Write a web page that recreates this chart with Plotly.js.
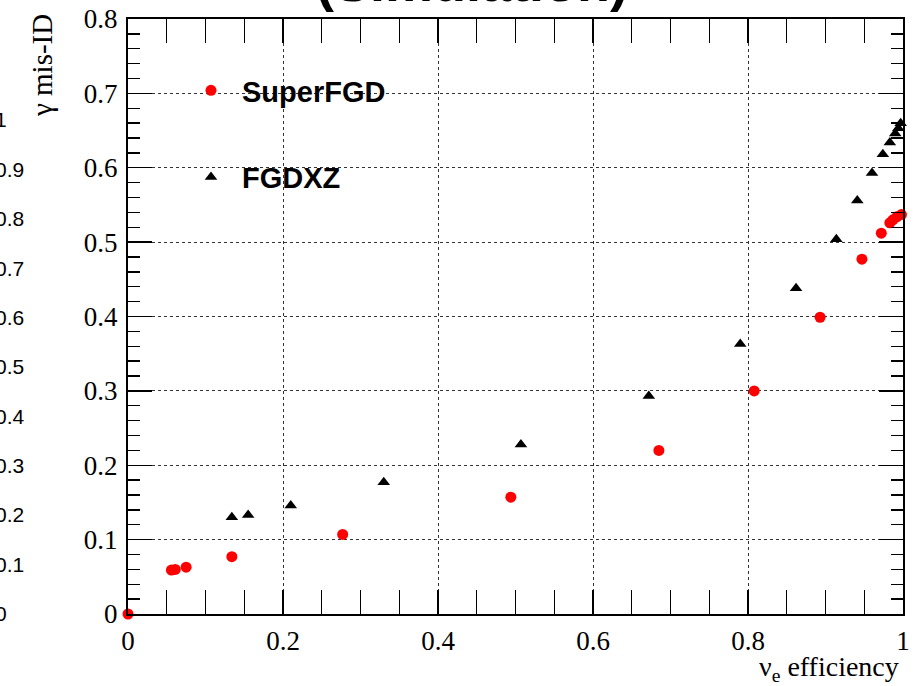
<!DOCTYPE html>
<html>
<head>
<meta charset="utf-8">
<script src="https://cdn.plot.ly/plotly-3.0.1.min.js"></script>
<style>html,body{margin:0;padding:0;background:#fff;}#chart{width:916px;height:686px;}</style>
</head>
<body>
<div id="chart"></div>
<script>
// SuperFGD (red circles)
const superX = [0, 0.056, 0.061, 0.075, 0.134, 0.277, 0.494, 0.685, 0.808, 0.893, 0.947, 0.972, 0.983, 0.987, 0.992, 0.998];
const superY = [0, 0.059, 0.060, 0.063, 0.077, 0.107, 0.157, 0.220, 0.300, 0.399, 0.477, 0.512, 0.526, 0.530, 0.534, 0.537];
// FGDXZ (black triangles)
const fgdX = [0.134, 0.155, 0.210, 0.330, 0.507, 0.672, 0.790, 0.862, 0.914, 0.941, 0.960, 0.974, 0.983, 0.990, 0.994, 0.997];
const fgdY = [0.130, 0.133, 0.146, 0.177, 0.228, 0.293, 0.363, 0.438, 0.504, 0.556, 0.593, 0.618, 0.634, 0.646, 0.653, 0.660];
// tick labels
const xTickVals = [0, 0.2, 0.4, 0.6, 0.8, 1];
const xTickText = ['0', '0.2', '0.4', '0.6', '0.8', '1'];
const yTickVals = [0, 0.1, 0.2, 0.3, 0.4, 0.5, 0.6, 0.7, 0.8];
const yTickText = ['0', '0.1', '0.2', '0.3', '0.4', '0.5', '0.6', '0.7', '0.8'];
// stray tick labels of the neighbouring (cropped) panel
const strayVals = [0, 0.1, 0.2, 0.3, 0.4, 0.5, 0.6, 0.7, 0.8, 0.9, 1];
const strayText = ['0', '0.1', '0.2', '0.3', '0.4', '0.5', '0.6', '0.7', '0.8', '0.9', '1'];
const seriesNames = ['SuperFGD', 'FGDXZ'];
const titleText = '(Simulation)';
const xTitle = 'ν<sub>e</sub> efficiency';
const yTitle = 'γ mis-ID';

const serif = 'Liberation Serif, Times New Roman, serif';
const sans = 'Liberation Sans, Arial, sans-serif';

const traces = [
  {x: superX, y: superY, type: 'scatter', mode: 'markers', name: seriesNames[0], legendgroup: 'a',
   marker: {color: '#ff0000', size: 11, symbol: 'circle', line: {width: 0}}, cliponaxis: false},
  {x: fgdX, y: fgdY, type: 'scatter', mode: 'markers', name: seriesNames[1], legendgroup: 'b',
   marker: {color: '#000000', size: 11, symbol: 'triangle-up', line: {width: 0}}, cliponaxis: false},
  {x: [], y: [], type: 'scatter', yaxis: 'y2', showlegend: false, hoverinfo: 'skip'}
];

const axCommon = {
  showline: true, linecolor: '#000', linewidth: 2, mirror: 'allticks',
  ticks: 'inside', ticklen: 24, tickwidth: 1.3, tickcolor: '#000',
  showgrid: true, gridcolor: '#333', griddash: 'dot', gridwidth: 1,
  zeroline: false, fixedrange: true,
  tickfont: {family: serif, size: 27, color: '#000'}
};

const layout = {
  width: 916, height: 686,
  margin: {l: 128, r: 13, t: 19, b: 72, pad: 0},
  paper_bgcolor: '#fff', plot_bgcolor: '#fff',
  showlegend: true,
  legend: {x: (180 - 128) / 775, y: (614 - 65) / 595, xanchor: 'left', yanchor: 'top',
    bgcolor: 'rgba(0,0,0,0)', borderwidth: 0, tracegroupgap: 46, itemwidth: 52,
    font: {family: sans, size: 29, color: '#000', weight: 'bold'}},
  xaxis: Object.assign({}, axCommon, {
    range: [0, 1], tickvals: xTickVals, ticktext: xTickText,
    minor: {dtick: 0.05, ticks: 'inside', ticklen: 12, tickcolor: '#000', tickwidth: 1.3, showgrid: false},
    ticklabelstandoff: 2
  }),
  yaxis: Object.assign({}, axCommon, {
    range: [0, 0.8], tickvals: yTickVals, ticktext: yTickText,
    minor: {dtick: 0.02, ticks: 'inside', ticklen: 12, tickcolor: '#000', tickwidth: 1.3, showgrid: false},
    ticklabelstandoff: 3
  }),
  yaxis2: {
    anchor: 'free', position: 0, overlaying: 'y', side: 'right',
    range: [-0.001, 1.205], tickvals: strayVals, ticktext: strayText,
    showline: false, showgrid: false, zeroline: false, ticks: '', fixedrange: true,
    tickfont: {family: sans, size: 21, color: '#000'},
    ticklabelstandoff: -134
  },
  annotations: [
    {text: titleText, xref: 'paper', yref: 'paper', x: (472 - 128) / 775, y: (614 - 14) / 595,
     xanchor: 'center', yanchor: 'bottom', showarrow: false,
     font: {family: sans, size: 54, color: '#000', weight: 'bold'}},
    {text: xTitle, xref: 'paper', yref: 'paper', x: (901 - 128) / 775, y: -(688 - 614) / 595,
     xanchor: 'right', yanchor: 'bottom', showarrow: false,
     font: {family: serif, size: 28, color: '#000'}},
    {text: yTitle, xref: 'paper', yref: 'paper', x: -(128 - 42) / 775, y: (614 - 66) / 595,
     xanchor: 'center', yanchor: 'middle', showarrow: false, textangle: -90,
     font: {family: serif, size: 29, color: '#000'}}
  ]
};

Plotly.newPlot('chart', traces, layout, {displayModeBar: false, staticPlot: true});
</script>
</body>
</html>
